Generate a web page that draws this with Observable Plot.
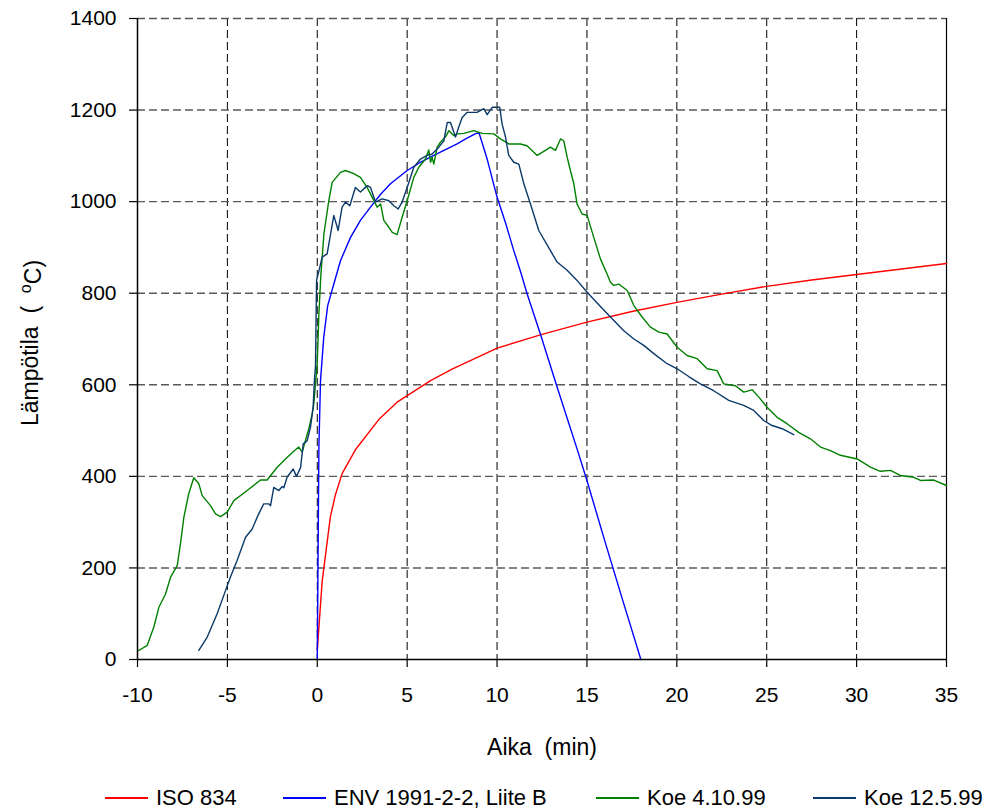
<!DOCTYPE html>
<html>
<head>
<meta charset="utf-8">
<script src="https://cdn.jsdelivr.net/npm/d3@7"></script>
<script src="https://cdn.jsdelivr.net/npm/@observablehq/plot@0.6"></script>
<style>
  html, body { margin: 0; padding: 0; background: white; }
  #chart { position: relative; width: 986px; height: 812px; }
  svg text { white-space: pre; }
  #legend { position: absolute; left: 0; top: 780px; width: 986px; height: 36px; }
  .item { position: absolute; top: 0; height: 36px; display: flex; align-items: center; white-space: pre; color: black; }
  .swatch { display: inline-block; width: 43px; height: 1.5px; margin-right: 8px; }
</style>
</head>
<body>
<div id="chart"><div id="legend"></div></div>
<script>
// ---------------- DATA ----------------
const xTicks = [-10, -5, 0, 5, 10, 15, 20, 25, 30, 35];
const yTicks = [0, 200, 400, 600, 800, 1000, 1200, 1400];
const xLabel = "Aika  (min)";
const yLabel = "Lämpötila  (  ";
const seriesNames = ["ISO 834", "ENV 1991-2-2, Liite B", "Koe 4.10.99", "Koe 12.5.99"];
const seriesColors = ["#ff0000", "#0000ff", "#008000", "#0b3a6a"];

// ISO 834
const isoT = [0, 0.27, 0.73, 1.01, 1.38, 2.12, 3.42, 4.44, 6.3, 7.5, 10, 12.5, 15, 17.5, 20, 22.5, 25, 27.5, 30, 32.5, 35];
const isoV = [20, 170, 312, 360, 406, 458, 524, 562, 609, 634, 680, 710, 737, 760, 780, 798, 815, 829, 841, 853, 865];

// ENV 1991-2-2, Liite B
const envT = [0, 0.09, 0.18, 0.36, 0.58, 0.92, 1.29, 1.85, 2.4, 2.96, 3.5, 4.07, 5.0, 5.7, 6.48, 7.1, 7.78, 8.3, 8.84, 9.0, 9.45, 10.0, 10.5, 10.93, 11.3, 11.67, 12.41, 13.34, 14.45, 15.0, 16.0, 17.0, 18.0];
const envV = [0, 464, 609, 704, 773, 820, 871, 922, 959, 988, 1015, 1039, 1068, 1085, 1101, 1113, 1126, 1138, 1149, 1150, 1093, 1010, 950, 893, 848, 799, 711, 595, 460, 391, 258, 128, 0];

// Koe 4.10.99
const koe1T = [-10, -9.46, -9.09, -8.81, -8.44, -8.16, -7.79, -7.61, -7.42, -7.15, -6.87, -6.59, -6.4, -5.94, -5.66, -5.38, -5.01, -4.64, -3.9, -3.16, -2.79, -2.23, -1.77, -1.31, -1.03, -0.84, -0.66, -0.47, -0.28, -0.19, 0.0, 0.09, 0.2, 0.37, 0.64, 0.83, 1.29, 1.57, 2.03, 2.4, 2.77, 3.05, 3.33, 3.52, 3.7, 3.98, 4.17, 4.44, 4.72, 5.0, 5.37, 5.65, 6.02, 6.2, 6.3, 6.39, 6.48, 6.67, 6.85, 7.13, 7.32, 7.6, 7.78, 8.15, 8.71, 9.17, 9.82, 10.19, 10.65, 11.3, 11.67, 12.23, 12.69, 12.97, 13.25, 13.53, 13.71, 13.9, 14.08, 14.27, 14.45, 14.73, 15.01, 15.38, 15.75, 16.12, 16.31, 16.49, 16.77, 17.24, 17.61, 18.07, 18.53, 19.0, 19.46, 20.02, 20.57, 21.13, 21.69, 22.24, 22.61, 23.26, 23.72, 24.19, 24.56, 25.02, 25.58, 26.13, 26.78, 27.43, 27.99, 28.54, 29.1, 30.03, 30.77, 31.32, 31.88, 32.43, 33.18, 33.55, 34.29, 35.0];
const koe1V = [18, 31, 71, 114, 143, 180, 205, 253, 311, 362, 397, 384, 358, 336, 318, 312, 322, 347, 369, 392, 392, 420, 438, 455, 464, 453, 478, 504, 537, 560, 650, 755, 840, 930, 1002, 1042, 1064, 1068, 1061, 1053, 1031, 1010, 988, 995, 959, 944, 933, 928, 966, 1002, 1053, 1075, 1093, 1113, 1086, 1097, 1082, 1119, 1130, 1141, 1155, 1144, 1148, 1149, 1155, 1149, 1148, 1137, 1126, 1126, 1122, 1101, 1112, 1119, 1112, 1137, 1133, 1097, 1068, 1039, 995, 973, 970, 922, 875, 842, 824, 817, 820, 806, 773, 748, 726, 715, 711, 682, 664, 657, 635, 631, 602, 598, 584, 589, 573, 551, 529, 515, 496, 482, 464, 456, 446, 438, 420, 411, 413, 402, 398, 391, 392, 380];

// Koe 12.5.99
const koe2T = [-6.59, -6.12, -5.57, -5.1, -4.83, -4.46, -3.99, -3.62, -3.34, -2.98, -2.7, -2.6, -2.42, -2.14, -1.95, -1.86, -1.68, -1.34, -1.16, -0.93, -0.78, -0.56, -0.38, -0.23, -0.16, -0.1, -0.04, 0.1, 0.27, 0.55, 0.92, 1.16, 1.38, 1.57, 1.81, 2.12, 2.4, 2.78, 2.96, 3.24, 3.61, 3.98, 4.26, 4.5, 4.72, 5.0, 5.37, 5.74, 6.11, 6.39, 6.76, 7.04, 7.23, 7.41, 7.69, 7.87, 8.06, 8.34, 8.89, 9.26, 9.45, 9.73, 10.15, 10.28, 10.47, 10.65, 10.93, 11.21, 11.49, 11.86, 12.32, 12.97, 13.34, 13.9, 14.45, 15.01, 15.75, 16.31, 17.05, 17.61, 18.16, 18.72, 19.46, 20.02, 20.66, 21.31, 22.05, 22.89, 23.72, 24.28, 24.83, 25.3, 25.86, 26.5];
const koe2V = [20, 49, 100, 151, 180, 216, 267, 285, 311, 340, 340, 336, 376, 369, 378, 375, 398, 416, 400, 419, 471, 478, 507, 551, 609, 640, 828, 850, 879, 886, 970, 937, 988, 999, 991, 1031, 1021, 1035, 1031, 999, 1006, 1002, 991, 984, 999, 1031, 1075, 1093, 1101, 1104, 1119, 1133, 1173, 1173, 1141, 1163, 1184, 1195, 1195, 1203, 1190, 1206, 1206, 1170, 1141, 1101, 1086, 1082, 1039, 995, 937, 893, 868, 850, 828, 802, 771, 748, 718, 700, 686, 668, 646, 635, 618, 602, 587, 566, 555, 544, 522, 511, 504, 491];

// ---------------- FONT ----------------
const FONT = '"Liberation Sans", Arial, sans-serif';
const tickSize = 21;
const titleSize = 23;
const legendSize = 22;

// ---------------- BUILD ----------------
const toRows = (T, V) => T.map((t, i) => ({t, v: V[i]}));
const series = [toRows(isoT, isoV), toRows(envT, envV), toRows(koe1T, koe1V), toRows(koe2T, koe2V)];

const xGrid = xTicks.filter(d => d > -10 && d < 35);
const yGrid = yTicks.filter(d => d > 0);
const fmt = d => String(d);

const chart = Plot.plot({
  width: 986,
  height: 775,
  marginTop: 18,
  marginBottom: 116,
  marginLeft: 137,
  marginRight: 40,
  style: {fontFamily: FONT, fontSize: tickSize + "px", color: "black", background: "white", overflow: "visible"},
  x: {domain: [-10, 35], label: null},
  y: {domain: [0, 1400], label: null},
  marks: [
    Plot.ruleX(xGrid, {stroke: "black", strokeWidth: 1, strokeDasharray: "8,4"}),
    Plot.ruleY(yGrid, {stroke: "#5a5a5a", strokeWidth: 1.4, strokeDasharray: "8,4"}),
    Plot.ruleX([35], {stroke: "black", strokeWidth: 1.2}),
    Plot.axisX(xTicks, {tickSize: 8, tickPadding: 20, tickFormat: fmt, label: null, stroke: "black", strokeWidth: 1.2}),
    Plot.axisY(yTicks, {tickSize: 8, tickPadding: 13, tickFormat: fmt, label: null, stroke: "black", strokeWidth: 1.2}),
    ...series.map((rows, i) => Plot.line(rows, {x: "t", y: "v", stroke: seriesColors[i], strokeWidth: 1.4, curve: "linear"})),
    Plot.ruleX([-10], {stroke: "black", strokeWidth: 1.5}),
    Plot.ruleY([0], {stroke: "black", strokeWidth: 1.5}),
    Plot.text([xLabel], {frameAnchor: "bottom", dy: 88, textAnchor: "middle", lineAnchor: "middle", fontSize: titleSize}),
    Plot.text([yLabel], {frameAnchor: "left", dx: -107, dy: 4, rotate: -90, textAnchor: "middle", lineAnchor: "middle", fontSize: titleSize})
  ]
});
document.getElementById("chart").prepend(chart);

// superscript degree in y label
d3.select(chart).selectAll("text").filter(function() { return this.textContent === yLabel; }).each(function() {
  const t = d3.select(this);
  t.text(null);
  t.append("tspan").text(yLabel);
  t.append("tspan").attr("dy", "-0.45em").attr("font-size", "0.7em").text("o");
  t.append("tspan").attr("dy", "0.45em").text("C)");
});

// ---------------- LEGEND ----------------
const legendLeft = [105, 283, 596, 813];
const legend = d3.select("#legend").style("font-family", FONT).style("font-size", legendSize + "px");
seriesNames.forEach((name, i) => {
  const it = legend.append("div").attr("class", "item").style("left", legendLeft[i] + "px");
  it.append("span").attr("class", "swatch").style("background-color", seriesColors[i]);
  it.append("span").text(name);
});
</script>
</body>
</html>
